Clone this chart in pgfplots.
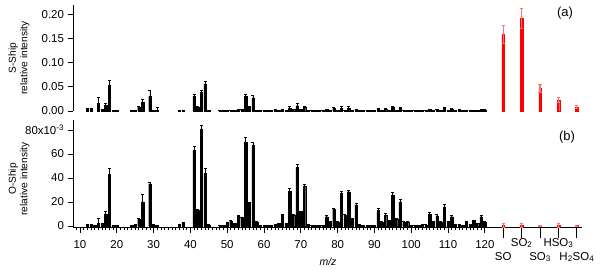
\documentclass[border=0pt]{standalone}
\usepackage{fontspec}
\setmainfont{Liberation Sans}
\usepackage{pgfplots}
\pgfplotsset{compat=1.18}
\usepackage{pgfplotstable}

\pgfplotstableread{
mz v e
12 0.004 0.001
13 0.004 0.001
15 0.016 0.012
16 0.003 0
17 0.012 0.004
18 0.054 0.009
19 0.001 0
20 0.001 0
24 0.001 0
25 0.002 0
26 0.008 0.002
27 0.019 0.006
29 0.030 0.012
30 0.001 0
31 0.001 0.007
37 0.002 0
38 0.002 0
41 0.030 0.005
42 0.008 0.001
43 0.039 0.004
44 0.056 0.006
45 0.001 0
48 0.002 0
49 0.002 0
50 0.002 0
51 0.002 0
52 0.002 0
53 0.004 0
54 0.003 0
55 0.030 0.005
56 0.008 0.001
57 0.026 0.006
58 0.002 0
59 0.001 0
60 0.002 0
61 0.001 0
62 0.002 0
63 0.003 0
64 0.002 0
65 0.003 0.001
66 0.001 0
67 0.006 0.003
68 0.003 0
69 0.011 0.005
70 0.003 0
71 0.007 0.003
72 0.001 0
73 0.001 0
74 0.001 0
75 0.001 0
76 0.001 0
77 0.003 0.001
78 0.001 0
79 0.005 0.003
80 0.002 0
81 0.006 0.003
82 0.002 0
83 0.006 0.003
84 0.002 0
85 0.003 0.001
86 0.001 0
87 0.001 0
88 0.001 0
89 0.001 0
90 0.001 0
91 0.004 0.001
92 0.002 0
93 0.004 0.001
94 0.002 0
95 0.007 0.003
96 0.002 0
97 0.005 0.003
98 0.001 0
99 0.001 0
100 0.001 0
101 0.001 0
102 0.001 0
103 0.001 0
104 0.001 0
105 0.003 0.001
106 0.001 0
107 0.003 0.001
108 0.002 0
109 0.005 0.002
110 0.002 0
111 0.004 0.001
112 0.001 0
113 0.002 0.001
114 0.001 0
115 0.001 0
116 0.001 0
117 0.002 0
118 0.001 0
119 0.002 0.001
120 0.002 0.001
}\sship

\pgfplotstableread{
mz v e
125 0.158 0.019
130 0.191 0.020
135 0.047 0.008
140 0.023 0.005
145 0.008 0.003
}\sred

\pgfplotstableread{
mz v e
12 1.0 0.5
13 1.0 0.5
14 0.4 0
15 2.0 4.0
16 2.0 0.5
17 10 2
18 43 5
19 0.8 0
20 0.8 0
24 0.5 0
25 1.0 0
26 5.5 0.8
27 20 6
29 35 1.5
30 1.0 0
31 0.8 0
37 1.2 0.5
38 2.5 0.8
41 63 3.5
42 13 0.5
43 81 2.5
44 44 4
45 1.0 0
48 0.3 0
49 0.3 0
50 2.5 0.5
51 4.0 0.5
52 2.0 0
53 8.6 0.5
54 7.5 0
55 70 3.5
56 19.5 0.5
57 67 3
58 3.5 0.5
59 0.3 0
60 0.3 0
61 0.3 0
62 0.5 0
63 1.0 0
64 2.0 0.5
65 9 1
66 2 0.5
67 29 2
68 9 0.5
69 49 2.5
70 12 0.5
71 33 2
72 1.5 0
73 0.5 0
74 0.5 0
75 0.5 0
76 0.5 0
77 7.7 1
78 3 0.5
79 14 1
80 3.5 0.5
81 27 2
82 9 0.5
83 28.6 1.5
84 6 0.5
85 17.5 1
86 1 0
87 0.5 0
88 0.3 0
89 0.5 0
90 0.3 0
91 12.8 1.5
92 3 0.5
93 9 1.5
94 4 0.5
95 26 2
96 5.5 0.5
97 20 2
98 3 0.5
99 3 0.5
100 0.5 0
101 0.5 0
102 0.5 0
103 1 0
104 1 0
105 9.7 1.5
106 3 0.5
107 8.6 1
108 3 0.5
109 16 2
110 3 0.5
111 7.7 1
112 1.5 0
113 1.5 0
114 0.5 0
115 3.5 0.5
116 1.5 0
117 4.5 0.5
118 2 0.5
119 7.7 1
120 3 0.5
}\oship

\pgfplotstableread{
mz v e
125 0.5 1.5
130 0.5 1.5
135 0.3 0.3
140 0.5 1.5
145 0.3 0.3
}\ored

\begin{document}
\begin{tikzpicture}
\useasboundingbox (0,0) rectangle (600bp,270bp);
\pgfplotsset{
  common/.style={
    scale only axis, width=509bp, xmin=8.1, xmax=146.4, clip=false,
    axis line style={-, line width=0.8bp, black},
    tick style={black, line width=0.8bp},
    tick align=outside, major tick length=5.5bp, minor tick length=3bp,
    tick label style={font=\fontsize{11.5}{12}\selectfont},
    /pgf/number format/assume math mode=true,
  },
  blackbars/.style={ybar, bar width=0.65, bar shift=0pt, fill=black, draw=black, line width=0.3bp,
    error bars/.cd, y dir=plus, y explicit,
    error bar style={line width=0.7bp, black},
    error mark options={rotate=90, mark size=1.5bp, line width=0.7bp, black}},
  redbars/.style={ybar, bar width=0.7, bar shift=0pt, fill=red, draw=red, line width=0.3bp,
    error bars/.cd, y dir=both, y explicit,
    error bar style={line width=1.1bp, red!55},
    error mark options={rotate=90, mark size=1.6bp, line width=0.8bp, red!55}},
}
\begin{axis}[common, at={(73bp,159bp)}, height=106bp,
  ymin=0, ymax=0.219, axis x line=none, axis y line*=left,
  ytick={0,0.05,0.1,0.15,0.2},
  yticklabel style={/pgf/number format/.cd, fixed, fixed zerofill, precision=2}]
\addplot[blackbars] table[x=mz, y=v, y error=e] {\sship};
\addplot[redbars] table[x=mz, y=v, y error=e] {\sred};
\end{axis}
\begin{axis}[common, at={(73bp,42.7bp)}, height=107.3bp,
  ymin=-1.1, ymax=88.3, axis x line*=bottom, axis y line*=left,
  ytick={0,20,40,60,80}, yticklabels={0,20,40,60,80x10\textsuperscript{-3}},
  xtick={10,20,...,120}, minor xtick={9,...,120},
  xticklabel style={yshift=-4bp},
  extra x ticks={125,130,135,140,145}, extra x tick labels={},
  extra x tick style={major tick length=11bp}]
\addplot[blackbars] table[x=mz, y=v, y error=e] {\oship};
\addplot[redbars] table[x=mz, y=v, y error=e] {\ored};
\begin{scope}[font=\fontsize{11.5}{12}\selectfont]
\node at (axis cs:125,-25.8) {SO};
\node at (axis cs:130,-14.2) {SO\textsubscript{2}};
\node at (axis cs:135,-25.8) {SO\textsubscript{3}};
\node at (axis cs:140,-14.2) {HSO\textsubscript{3}};
\node at (axis cs:145,-25.8) {H\textsubscript{2}SO\textsubscript{4}};
\end{scope}
\end{axis}
\node[rotate=90, align=center, font=\fontsize{10.2}{11.5}\selectfont] at (19bp,212bp) {S-Ship\\relative intensity};
\node[rotate=90, align=center, font=\fontsize{10.2}{11.5}\selectfont] at (19bp,91bp) {O-Ship\\relative intensity};
\node[font=\fontsize{13}{14}\selectfont] at (565bp,257bp) {(a)};
\node[font=\fontsize{13}{14}\selectfont] at (567bp,133bp) {(b)};
\node[font=\fontsize{10.5}{12}\selectfont] at (328bp,8bp) {\textit{m/z}};
\end{tikzpicture}
\end{document}
